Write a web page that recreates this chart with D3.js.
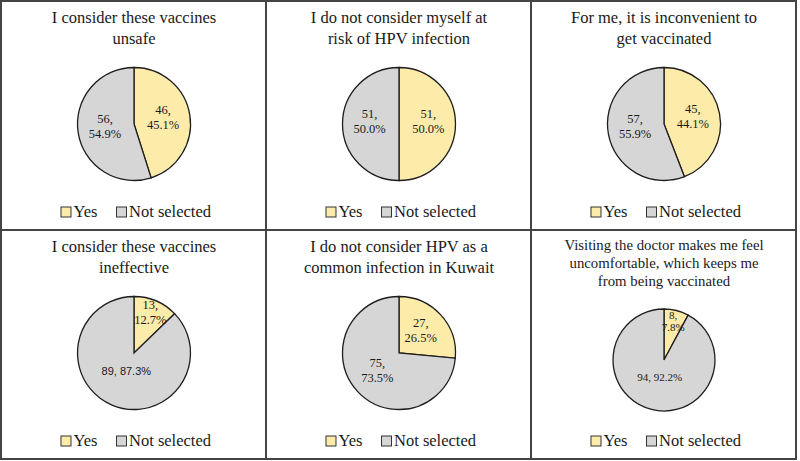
<!DOCTYPE html>
<html>
<head>
<meta charset="utf-8">
<script src="https://cdn.jsdelivr.net/npm/d3@7"></script>
<style>
  body { margin: 0; background: #fff; }
  text { font-family: "Palatino Linotype", "Book Antiqua", Palatino, "Liberation Serif", serif; fill: #1a1a1a; }
</style>
</head>
<body>
<div id="chart"></div>
<script>
// chart data
var titles = [
  ["I consider these vaccines", "unsafe"],
  ["I do not consider myself at", "risk of HPV infection"],
  ["For me, it is inconvenient to", "get vaccinated"],
  ["I consider these vaccines", "ineffective"],
  ["I do not consider HPV as a", "common infection in Kuwait"],
  ["Visiting the doctor makes me feel", "uncomfortable, which keeps me", "from being vaccinated"]
];
var categories = ["Yes", "Not selected"];
var yesCounts = [46, 51, 45, 13, 27, 8];
var notSelectedCounts = [56, 51, 57, 89, 75, 94];

var colors = ["#fdeba9", "#d6d6d6"];
var W = 800, H = 461;

var svg = d3.select("#chart").append("svg")
    .attr("width", W)
    .attr("height", H);

// panel grid
var colScale = d3.scaleBand().domain([0, 1, 2]).range([1, 796]);
var rowScale = d3.scaleBand().domain([0, 1]).range([1, 459]);

svg.append("rect")
    .attr("x", 1).attr("y", 1)
    .attr("width", 795).attr("height", 458)
    .attr("fill", "none").attr("stroke", "#444").attr("stroke-width", 2);
[1, 2].forEach(function(c) {
  svg.append("line")
      .attr("x1", colScale(c)).attr("x2", colScale(c))
      .attr("y1", 1).attr("y2", 459)
      .attr("stroke", "#444").attr("stroke-width", 2);
});
svg.append("line")
    .attr("x1", 1).attr("x2", 796)
    .attr("y1", rowScale(1)).attr("y2", rowScale(1))
    .attr("stroke", "#444").attr("stroke-width", 2);

var pie = d3.pie().sort(null).value(function(d) { return d; });

titles.forEach(function(title, i) {
  var col = i % 3, row = Math.floor(i / 3);
  var x0 = colScale(col), y0 = rowScale(row);
  var cx = x0 + colScale.bandwidth() / 2 + 0.5;
  var three = title.length > 2;
  var r = three ? 51 : 56.5;
  var cy = y0 + (three ? 130 : 123);
  var g = svg.append("g");

  // title
  var tSize = three ? 14.8 : 16.5;
  var tLead = three ? 18 : 21;
  g.selectAll("text.title")
      .data(title)
      .enter().append("text")
      .attr("class", "title")
      .attr("x", cx)
      .attr("y", function(d, k) { return y0 + (three ? 20 : 22) + k * tLead; })
      .attr("text-anchor", "middle")
      .attr("font-size", tSize)
      .text(function(d) { return d; });

  // pie
  var values = [yesCounts[i], notSelectedCounts[i]];
  var total = d3.sum(values);
  var arcs = pie(values);
  var arc = d3.arc().innerRadius(0).outerRadius(r);
  var pg = g.append("g").attr("transform", "translate(" + cx + "," + cy + ")");
  pg.selectAll("path")
      .data(arcs)
      .enter().append("path")
      .attr("d", arc)
      .attr("fill", function(d, k) { return colors[k]; })
      .attr("stroke", "#1e1e1e")
      .attr("stroke-width", 1.3);

  // data labels
  var lSize = three ? 11 : 12.5;
  arcs.forEach(function(a, k) {
    var share = a.value / total;
    var lr = share < 0.15 ? 0.74 * r : (share > 0.85 ? 0.35 * r : 0.52 * r);
    var p = d3.arc().innerRadius(lr).outerRadius(lr).centroid(a);
    var pct = (share * 100).toFixed(1) + "%";
    if (share > 0.85) {
      var t = pg.append("text")
          .attr("x", p[0]).attr("y", p[1] + 4)
          .attr("text-anchor", "middle")
          .attr("font-size", lSize)
          .text(a.value + ", " + pct);
      if (i === 3) t.style("font-family", "'Liberation Sans', Arial, sans-serif").attr("font-size", 11);
    } else {
      var lead = three ? 12 : 15;
      pg.append("text")
          .attr("x", p[0]).attr("y", p[1] - lead * 0.4)
          .attr("text-anchor", "middle")
          .attr("font-size", lSize)
          .text(a.value + ",");
      pg.append("text")
          .attr("x", p[0]).attr("y", p[1] + lead * 0.6)
          .attr("text-anchor", "middle")
          .attr("font-size", lSize)
          .text(pct);
    }
  });

  // legend
  var ly = y0 + 216;
  var lg = g.append("g");
  var xPos = 0;
  categories.forEach(function(c, k) {
    lg.append("rect")
        .attr("x", xPos).attr("y", ly - 10)
        .attr("width", 10).attr("height", 10)
        .attr("fill", colors[k]).attr("stroke", "#333").attr("stroke-width", 1);
    var tx = lg.append("text")
        .attr("x", xPos + 12.5).attr("y", ly)
        .attr("font-size", 16.5)
        .text(c);
    xPos += 12.5 + tx.node().getComputedTextLength() + 19;
  });
  var lw = xPos - 19;
  lg.attr("transform", "translate(" + (cx + 2 - lw / 2) + ",0)");
});
</script>
</body>
</html>
